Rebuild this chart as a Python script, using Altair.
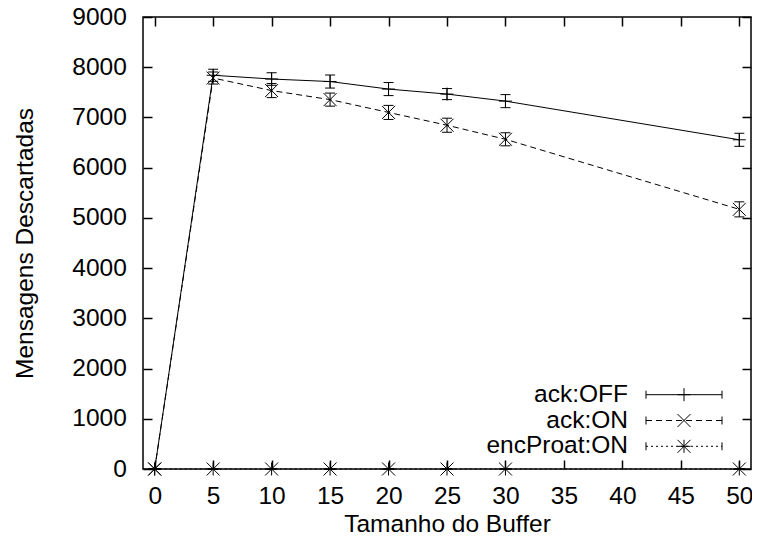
import altair as alt
import pandas as pd

# ---- data ----
buffer_sizes = [0, 5, 10, 15, 20, 25, 30, 50]
ack_off = [0, 7840, 7765, 7715, 7565, 7465, 7325, 6555]
ack_off_err = [0, 120, 125, 130, 130, 110, 130, 130]
ack_on = [0, 7785, 7535, 7355, 7100, 6845, 6565, 5170]
ack_on_err = [0, 120, 140, 130, 140, 140, 130, 150]
enc_proat = [0, 0, 0, 0, 0, 0, 0, 0]
enc_proat_err = [0, 0, 0, 0, 0, 0, 0, 0]
series_names = ["ack:OFF", "ack:ON", "encProat:ON"]
x_ticks = [0, 5, 10, 15, 20, 25, 30, 35, 40, 45, 50]
y_ticks = [0, 1000, 2000, 3000, 4000, 5000, 6000, 7000, 8000, 9000]
x_title = "Tamanho do Buffer"
y_title = "Mensagens Descartadas"

FONT = "Liberation Sans"
FS = 24.5
W, H = 608, 452

PLUS = "M-1,0L1,0M0,-1L0,1"
CROSS = "M-1,-1L1,1M-1,1L1,-1"
STAR = PLUS + CROSS
shapes = [PLUS, CROSS, STAR]
dashes = [None, [6, 4], [2, 3]]


def frame(vals, errs, name):
    return pd.DataFrame({
        "x": buffer_sizes,
        "v": vals,
        "lo": [a - b for a, b in zip(vals, errs)],
        "hi": [a + b for a, b in zip(vals, errs)],
        "serie": name,
    })


frames = [frame(ack_off, ack_off_err, series_names[0]),
          frame(ack_on, ack_on_err, series_names[1]),
          frame(enc_proat, enc_proat_err, series_names[2])]

xs = alt.Scale(domain=[-1, 51], nice=False, zero=False)
ys = alt.Scale(domain=[0, 9000], nice=False, zero=False)

x_axes = [
    alt.Axis(orient="bottom", values=x_ticks, ticks=False, domain=False, grid=False,
             labelPadding=15.5, labelFlush=False, labelOverlap=False, format="d",
             titleY=62, titleBaseline="alphabetic"),
    alt.Axis(orient="bottom", values=x_ticks, labels=False, domain=False, grid=False,
             tickSize=9, offset=-9, title=None),
    alt.Axis(orient="top", values=x_ticks, labels=False, domain=False, grid=False,
             tickSize=9, offset=-9, title=None),
]
y_axes = [
    alt.Axis(orient="left", values=y_ticks, ticks=False, domain=False, grid=False,
             labelPadding=16.7, labelFlush=False, labelOverlap=False, format="d",
             titleX=-111, titleY=H / 2, titleAlign="center", titleBaseline="alphabetic"),
    alt.Axis(orient="left", values=y_ticks, labels=False, domain=False, grid=False,
             tickSize=9, offset=-9, title=None),
    alt.Axis(orient="right", values=y_ticks, labels=False, domain=False, grid=False,
             tickSize=9, offset=-9, title=None),
]

layers = []
# lines (carry the axes)
for i, df in enumerate(frames):
    kw = {"color": "black", "strokeWidth": 1}
    if dashes[i]:
        kw["strokeDash"] = dashes[i]
    layers.append(
        alt.Chart(df).mark_line(**kw).encode(
            x=alt.X("x:Q", scale=xs, axis=x_axes[i], title=x_title),
            y=alt.Y("v:Q", scale=ys, axis=y_axes[i], title=y_title),
        )
    )
# error bars
for i, df in enumerate(frames):
    layers.append(
        alt.Chart(df).mark_rule(color="black", strokeWidth=1).encode(
            x=alt.X("x:Q", scale=xs, axis=None),
            y=alt.Y("lo:Q", scale=ys, axis=None),
            y2="hi:Q",
        )
    )
    for col in ["lo", "hi"]:
        layers.append(
            alt.Chart(df).mark_tick(orient="horizontal", size=10, thickness=1,
                                    color="black", opacity=1).encode(
                x=alt.X("x:Q", scale=xs, axis=None),
                y=alt.Y(f"{col}:Q", scale=ys, axis=None),
            )
        )
# point markers
for i, df in enumerate(frames):
    layers.append(
        alt.Chart(df).mark_point(shape=shapes[i], size=169, filled=False,
                                 stroke="black", strokeWidth=1, opacity=1).encode(
            x=alt.X("x:Q", scale=xs, axis=None),
            y=alt.Y("v:Q", scale=ys, axis=None),
        )
    )

# key (gnuplot style, bottom right inside the frame)
key_text_x = 485
key_x1, key_x2, key_mx = 503, 579, 541
key_y0, key_dy = 377.7, 25.8
for i, name in enumerate(series_names):
    yrow = key_y0 + i * key_dy
    kdf = pd.DataFrame({"serie": [name]})
    layers.append(
        alt.Chart(kdf).mark_text(align="right", baseline="middle", font=FONT,
                                 fontSize=FS, color="black").encode(
            x=alt.value(key_text_x), y=alt.value(yrow), text="serie:N")
    )
    kw = {"color": "black", "strokeWidth": 1}
    if dashes[i]:
        kw["strokeDash"] = dashes[i]
    layers.append(
        alt.Chart(kdf).mark_rule(**kw).encode(
            x=alt.value(key_x1), x2=alt.value(key_x2), y=alt.value(yrow))
    )
    for ex in (key_x1, key_x2):
        layers.append(
            alt.Chart(kdf).mark_rule(color="black", strokeWidth=1).encode(
                x=alt.value(ex), y=alt.value(yrow - 4), y2=alt.value(yrow + 4))
        )
    layers.append(
        alt.Chart(kdf).mark_point(shape=shapes[i], size=169, filled=False,
                                  stroke="black", strokeWidth=1, opacity=1).encode(
            x=alt.value(key_mx), y=alt.value(yrow))
    )

chart = alt.layer(*layers).resolve_axis(x="independent", y="independent").properties(
    width=W, height=H,
    autosize=alt.AutoSizeParams(type="none"),
    padding={"left": 135, "top": 9, "right": 1, "bottom": 64},
    background="white",
).configure_view(stroke="black", strokeWidth=1.5).configure_axis(
    labelFont=FONT, labelFontSize=FS, labelColor="black",
    titleFont=FONT, titleFontSize=FS, titleFontWeight="normal", titleColor="black",
    tickColor="black", tickWidth=1.5,
)

chart.save("out.html", embed_options={"renderer": "svg", "actions": False})
